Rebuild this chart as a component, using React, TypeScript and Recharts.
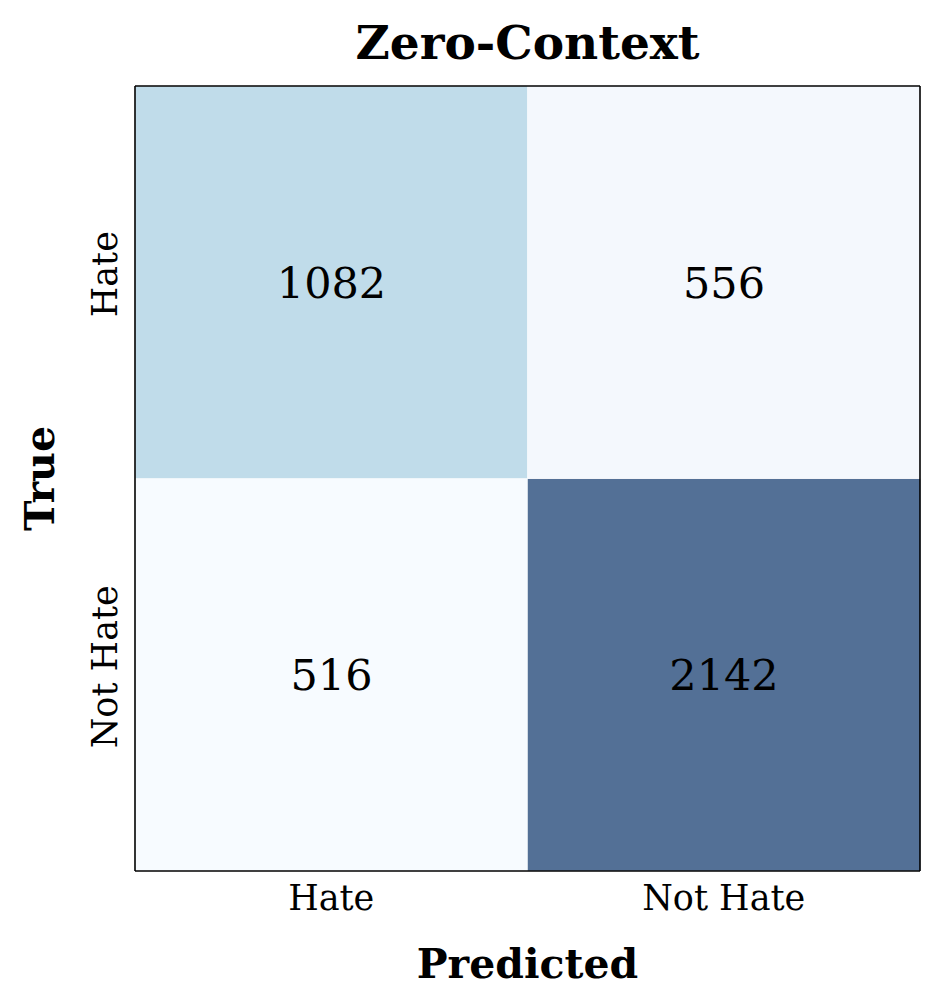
import React from "react";
import { BarChart, Bar, XAxis, YAxis, Cell, LabelList } from "recharts";

const predictedLabels = ["Hate", "Not Hate"];
const trueLabels = ["Not Hate", "Hate"]; // bottom to top
const hateRowCounts = [1082, 556];
const notHateRowCounts = [516, 2142];
const hateRowColors = ["#c0dcea", "#f4f8fd"];
const notHateRowColors = ["#f7fbff", "#537096"];

const data = predictedLabels.map((p, i) => ({
  predicted: p,
  notHateCell: 1,
  hateCell: 1,
  notHateCount: notHateRowCounts[i],
  hateCount: hateRowCounts[i],
}));

const FONT = "'DejaVu Serif', serif";

const XTick = (props: any) => {
  const { x, y, payload } = props;
  return (
    <text x={x} y={y + 27} textAnchor="middle" dominantBaseline="central" fontFamily={FONT} fontSize={35} fill="#000">
      {payload.value}
    </text>
  );
};

const YTick = (props: any) => {
  const { x, y, payload } = props;
  const label = trueLabels[Math.round(payload.value - 0.5)];
  return (
    <text x={0} y={0} transform={`translate(${x - 30},${y - 8}) rotate(-90)`} textAnchor="middle" dominantBaseline="central" fontFamily={FONT} fontSize={35} fill="#000">
      {label}
    </text>
  );
};

export default function App() {
  return (
    <BarChart
      width={926}
      height={991}
      data={data}
      margin={{ top: 0, right: 13, bottom: 0, left: 0 }}
      barCategoryGap={0}
      style={{ background: "#fff" }}
    >
      <XAxis
        dataKey="predicted"
        xAxisId="b"
        height={128}
        tickLine={false}
        tickSize={0}
        tickMargin={0}
        axisLine={{ stroke: "#000", strokeWidth: 1.6 }}
        tick={<XTick />}
        label={{
          content: (p: any) => {
            const vb = p.viewBox;
            return (
              <text x={vb.x + vb.width / 2} y={vb.y + 93} textAnchor="middle" dominantBaseline="central" fontFamily={FONT} fontSize={41} fontWeight="bold" fill="#000">
                Predicted
              </text>
            );
          },
        }}
      />
      <XAxis
        dataKey="predicted"
        xAxisId="t"
        orientation="top"
        height={78}
        tick={false}
        tickLine={false}
        axisLine={{ stroke: "#000", strokeWidth: 1.6 }}
        label={{
          content: (p: any) => {
            const vb = p.viewBox;
            return (
              <text x={vb.x + vb.width / 2} y={34} textAnchor="middle" dominantBaseline="central" fontFamily={FONT} fontSize={47} fontWeight="bold" fill="#000">
                Zero-Context
              </text>
            );
          },
        }}
      />
      <YAxis
        yAxisId="l"
        type="number"
        domain={[0, 2]}
        ticks={[0.5, 1.5]}
        width={127}
        tickLine={false}
        tickSize={0}
        tickMargin={0}
        axisLine={{ stroke: "#000", strokeWidth: 1.6 }}
        tick={<YTick />}
        label={{
          content: (p: any) => {
            const vb = p.viewBox;
            const cy = vb.y + vb.height / 2;
            return (
              <text x={0} y={0} transform={`translate(32,${cy}) rotate(-90)`} textAnchor="middle" dominantBaseline="central" fontFamily={FONT} fontSize={41} fontWeight="bold" fill="#000">
                True
              </text>
            );
          },
        }}
      />
      <YAxis
        yAxisId="r"
        orientation="right"
        type="number"
        domain={[0, 2]}
        width={1}
        tick={false}
        tickLine={false}
        axisLine={{ stroke: "#000", strokeWidth: 1.6 }}
      />
      <Bar dataKey="notHateCell" stackId="a" xAxisId="b" yAxisId="l" isAnimationActive={false} stroke="#ffffff" strokeOpacity={0.5} strokeWidth={1}>
        {data.map((d, i) => (
          <Cell key={`nh-${i}`} fill={notHateRowColors[i]} />
        ))}
        <LabelList dataKey="notHateCount" position="center" fill="#000" fontFamily={FONT} fontSize={43} />
      </Bar>
      <Bar dataKey="hateCell" stackId="a" xAxisId="b" yAxisId="l" isAnimationActive={false} stroke="#ffffff" strokeOpacity={0.5} strokeWidth={1}>
        {data.map((d, i) => (
          <Cell key={`h-${i}`} fill={hateRowColors[i]} />
        ))}
        <LabelList dataKey="hateCount" position="center" fill="#000" fontFamily={FONT} fontSize={43} />
      </Bar>
    </BarChart>
  );
}
